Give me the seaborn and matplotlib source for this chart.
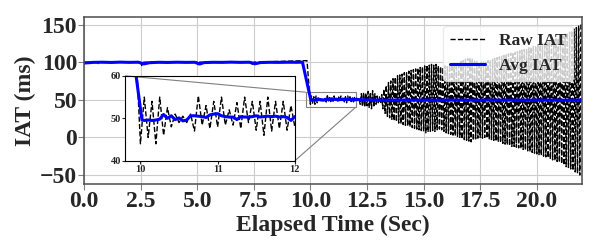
import numpy as np
import pandas as pd
import matplotlib
matplotlib.use("Agg")
import matplotlib.pyplot as plt
import seaborn as sns
from mpl_toolkits.axes_grid1.inset_locator import mark_inset

# raw IAT before the rate change (sparse vertices, ~100 ms)
raw_pre_t = [0.0, 0.55, 0.6, 0.65, 2.5, 2.55, 2.6, 5.0, 5.05, 5.1, 7.4, 7.45, 7.5, 9.85]
raw_pre_v = [100, 100, 97.5, 100, 100, 95.5, 100, 100, 95.5, 100, 100, 95.5, 100, 102]

# raw IAT after 10 s, one sample every 50 ms (one row per second)
raw_post_v = [
    44, 55, 45.5, 54, 44, 55, 46, 52.5, 48, 51, 49, 50.5, 49, 51, 47, 55.3, 48.4, 53, 47.6, 54,
    48, 55, 48.4, 52, 48.4, 53.7, 47.6, 55, 49, 54, 47.2, 54, 46, 55, 47, 54, 47.6, 54, 47.2, 53,
    48, 52, 49, 51.5, 44, 58, 41, 60, 40, 59, 42, 61, 39, 60, 38, 62, 40, 58, 44, 55,
    46, 54, 45, 57, 38, 64, 32, 69, 28, 73, 26, 75, 24, 78, 22, 80, 21, 82, 19, 83,
    18, 84, 17, 86, 16, 86, 15, 88, 14, 89, 13, 90, 12, 91, 11, 92, 10, 93, 9, 94,
    8, 95, 6, 96, 7, 96, 8, 97, 9, 96, 8, 97, 10, 95, 11, 94, 10, 93, 8, 95,
    6, 94, 5, 96, 4, 97, 3, 98, 2, 98, 1, 100, 0, 101, -2, 102, -3, 104, -4, 105,
    -5, 106, -6, 105, -4, 103, -2, 101, -1, 100, 0, 100, -1, 101, 0, 100, -1, 102, -2, 103,
    -3, 104, -4, 105, -5, 106, -6, 107, -7, 108, -8, 109, -9, 110, -10, 111, -11, 112, -12, 113,
    -12, 113, -13, 114, -14, 115, -15, 116, -16, 117, -17, 118, -18, 119, -19, 120, -20, 121, -21, 122,
    -22, 122, -23, 123, -24, 125, -25, 126, -26, 127, -27, 128, -29, 129, -30, 130, -31, 131, -32, 132,
    -33, 133, -35, 135, -37, 137, -39, 139, -40, 140, -42, 142, -44, 144, -46, 146, -48, 148, -50, 150,
]
raw_post_t = np.round(10.0 + 0.05 * np.arange(len(raw_post_v)), 2)

# averaged IAT
avg_pre_t = [0, 0.4, 0.8, 1.2, 1.6, 2.0, 2.4, 2.65, 2.9, 3.3, 3.7, 4.1, 4.5, 4.9, 5.1, 5.3,
             5.7, 6.1, 6.5, 6.9, 7.3, 7.55, 7.8, 8.2, 8.6, 9.0, 9.4, 9.65, 10.02]
avg_pre_v = [98.8, 99.7, 99.9, 99.6, 100.0, 99.7, 99.9, 97.7, 99.3, 99.8, 99.6, 99.9,
             99.7, 99.8, 97.5, 99.4, 99.8, 99.7, 100.0, 99.7, 99.9, 97.8, 99.5, 99.8,
             99.7, 99.9, 99.8, 100.0, 49.6]
avg_mid_v = [49.5, 49.6, 49.5, 49.6, 49.8, 50.9, 50.0, 50.6, 49.7, 50.1, 49.4, 49.6, 50.6, 50.6,
             50.5, 50.4, 50.2, 50.8, 51.0, 51.1, 50.6, 50.4, 50.3, 50.3, 49.7, 50.4, 50.3, 50.3,
             50.4, 50.6, 50.3, 50.4, 50.5, 50.4, 50.5, 50.3, 50.4, 50.2, 49.5, 50.4]
avg_mid_t = np.round(10.05 + 0.05 * np.arange(len(avg_mid_v)), 2)
avg_late_v = [49.8, 49.6, 49.5, 49.7, 49.5, 49.6, 49.4, 49.6, 49.5, 49.5,
              49.4, 49.6, 49.5, 49.5, 49.4, 49.5, 49.6, 49.4, 49.5, 49.5]
avg_late_t = np.round(12.5 + 0.5 * np.arange(len(avg_late_v)), 2)

raw = pd.DataFrame({"t": list(raw_pre_t) + list(raw_post_t),
                    "iat": list(raw_pre_v) + list(raw_post_v)})
avg = pd.DataFrame({"t": list(avg_pre_t) + list(avg_mid_t) + list(avg_late_t),
                    "iat": list(avg_pre_v) + list(avg_mid_v) + list(avg_late_v)})

sns.set_style("whitegrid", {"axes.edgecolor": "0.3", "grid.color": "0.8"})
plt.rcParams["font.family"] = ["Liberation Serif", "DejaVu Serif"]
plt.rcParams["font.weight"] = "bold"
plt.rcParams["axes.labelweight"] = "bold"

fig = plt.figure(figsize=(5.98, 2.4), dpi=100)
ax = fig.add_axes([0.1405, 0.2333, 0.8328, 0.6958])

sns.lineplot(data=raw, x="t", y="iat", ax=ax, color="black", linestyle="--",
             linewidth=1.0, label="Raw IAT", estimator=None)
sns.lineplot(data=avg, x="t", y="iat", ax=ax, color="blue", linewidth=2.2,
             label="Avg IAT", estimator=None)

ax.set_xlim(0, 22)
ax.set_ylim(-62, 160)
ax.set_xticks(np.arange(0, 22, 2.5))
ax.set_yticks([-50, 0, 50, 100, 150])
ax.xaxis.set_major_formatter(matplotlib.ticker.FormatStrFormatter("%.1f"))
ax.tick_params(labelsize=17, length=4, color="0.5", bottom=True, left=True, pad=1)
for lab in ax.get_xticklabels() + ax.get_yticklabels():
    lab.set_fontweight("bold")
ax.set_xlabel("Elapsed Time (Sec)", fontsize=17, fontweight="bold", labelpad=2)
ax.set_ylabel("IAT (ms)", fontsize=17, fontweight="bold", labelpad=3)
for s in ax.spines.values():
    s.set_linewidth(1.1)

leg = ax.legend(loc="upper right", fontsize=12.5, framealpha=0.8, borderaxespad=0.5,
                edgecolor="0.9", handlelength=2.0)
for txt in leg.get_texts():
    txt.set_fontweight("bold")

# zoomed inset on the transition
axins = fig.add_axes([0.209, 0.330, 0.284, 0.354])
sns.lineplot(data=raw, x="t", y="iat", ax=axins, color="black", linestyle="--",
             linewidth=1.0, estimator=None, legend=False)
sns.lineplot(data=avg, x="t", y="iat", ax=axins, color="blue", linewidth=2.2,
             estimator=None, legend=False)
axins.set_xlim(9.8, 12)
axins.set_ylim(40, 60)
axins.set_xticks([10, 11, 12])
axins.set_yticks([40, 50, 60])
axins.grid(False)
axins.set_facecolor("white")
axins.set_xlabel("")
axins.set_ylabel("")
axins.tick_params(labelsize=7.5, length=2, bottom=True, left=True, pad=1)
for lab in axins.get_xticklabels() + axins.get_yticklabels():
    lab.set_fontweight("bold")
for s in axins.spines.values():
    s.set_edgecolor("black")
    s.set_linewidth(0.8)
mark_inset(ax, axins, loc1=2, loc2=4, fc="none", ec="0.5", lw=0.8)

fig.savefig("out.png", dpi=100)
